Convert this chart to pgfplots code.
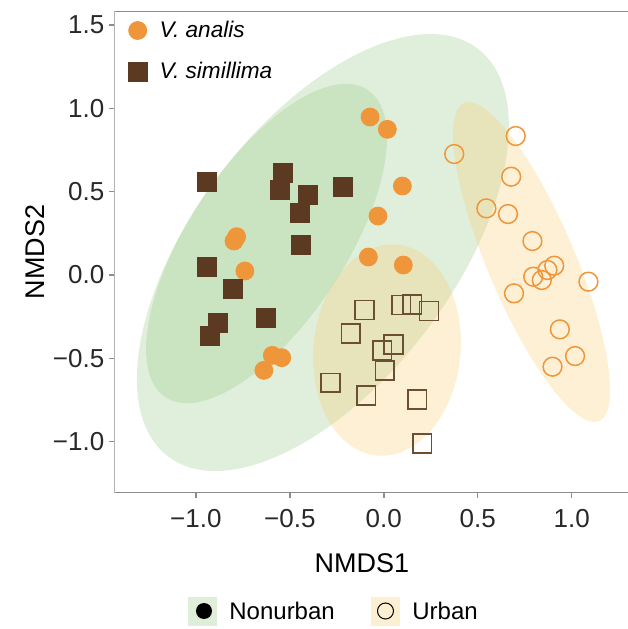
\documentclass[border=0pt]{standalone}
\usepackage{pgfplots}
\pgfplotsset{compat=1.18}
\usepackage{fontspec}
\setmainfont{Liberation Sans}
\definecolor{orng}{RGB}{240,150,58}
\definecolor{brwn}{RGB}{92,58,34}
\definecolor{brwnl}{RGB}{108,78,50}
\definecolor{grn}{RGB}{152,202,135}
\definecolor{ylw}{RGB}{248,205,115}
\definecolor{frame}{RGB}{140,140,140}
\definecolor{tick}{RGB}{40,40,40}
\begin{document}
\begin{tikzpicture}
\begin{axis}[
  scale only axis,
  width=256.85pt, height=240.85pt,
  xmin=-1.434, xmax=1.2996,
  ymin=-1.306, ymax=1.584,
  axis line style={draw=none},
  xtick={-1,-0.5,0,0.5,1},
  ytick={-1,-0.5,0,0.5,1,1.5},
  xticklabels={−1.0,−0.5,0.0,0.5,1.0},
  yticklabels={−1.0,−0.5,0.0,0.5,1.0,1.5},
  tick align=outside,
  major tick length=2.5pt,
  tick style={frame, line width=0.75pt},
  xtick pos=bottom, ytick pos=left,
  ticklabel style={font=\fontsize{13}{15}\selectfont, text=tick},
  xticklabel style={yshift=-2.5pt},
  yticklabel style={xshift=1pt},
  xlabel={NMDS1}, ylabel={NMDS2},
  label style={font=\fontsize{13.5}{16}\selectfont},
  xlabel style={at={(axis description cs:0.482,-0.1474)}, anchor=center},
  ylabel style={at={(axis description cs:-0.1544,0.5)}, anchor=center, rotate=0},
  legend style={at={(axis description cs:0,1)}, anchor=north west, draw=none, fill=none,
    font=\fontsize{11.3}{13}\selectfont\itshape, row sep=7pt, xshift=3.5pt, yshift=-0.7pt,
    nodes={inner xsep=2pt}},
  legend cell align=left,
  legend image code/.code={\path[draw=none, fill=none] (0pt,0pt) -- (14pt,0pt); \draw[#1] plot coordinates {(5pt,0pt)};},
]
% ellipses
\fill[grn, opacity=0.3] (axis cs:-0.324,0.135) ellipse [x radius=128pt, y radius=64.75pt, rotate=52.8];
\fill[grn, opacity=0.3] (axis cs:-0.624,0.189) ellipse [x radius=92pt, y radius=39.25pt, rotate=56.7];
\fill[ylw, opacity=0.3] (axis cs:0.017,-0.450) ellipse [x radius=53pt, y radius=36.8pt, rotate=84.5];
\fill[ylw, opacity=0.3] (axis cs:0.786,0.078) ellipse [x radius=86.4pt, y radius=21.85pt, rotate=-67];
% frame
\draw[frame, line width=0.75pt] (rel axis cs:1,1) -- (rel axis cs:0,1) -- (rel axis cs:0,0) -- (rel axis cs:1,0);
% V. analis, nonurban
\addplot[only marks, mark=*, mark size=4.5pt, color=orng] coordinates {
(-0.073,0.948) (0.019,0.874) (0.099,0.534) (-0.031,0.354) (-0.082,0.108) (0.104,0.060)
(-0.783,0.230) (-0.797,0.204) (-0.739,0.024) (-0.593,-0.482) (-0.543,-0.496) (-0.638,-0.572)
};
\addlegendentry{V. analis}
% V. simillima, nonurban
\addplot[only marks, mark=square*, mark size=4.75pt, color=brwn] coordinates {
(-0.939,0.560) (-0.535,0.610) (-0.554,0.508) (-0.402,0.478) (-0.446,0.374) (-0.216,0.530)
(-0.439,0.178) (-0.939,0.050) (-0.801,-0.082) (-0.625,-0.260) (-0.882,-0.290) (-0.927,-0.366)
};
\addlegendentry{V. simillima}
% V. simillima, urban
\addplot[only marks, mark=square, mark size=4.7pt, color=brwnl, mark options={line width=0.75pt, fill=none}, forget plot] coordinates {
(-0.102,-0.210) (0.093,-0.180) (0.152,-0.176) (0.241,-0.216) (-0.176,-0.350) (0.051,-0.416)
(-0.008,-0.452) (0.005,-0.572) (-0.283,-0.646) (-0.093,-0.722) (0.178,-0.746) (0.205,-1.010)
};
% V. analis, urban
\addplot[only marks, mark=o, mark size=4.7pt, color=orng, mark options={line width=0.75pt, fill=none}, forget plot] coordinates {
(0.375,0.726) (0.702,0.834) (0.678,0.590) (0.546,0.400) (0.661,0.366) (0.791,0.204)
(0.907,0.056) (0.871,0.030) (0.795,-0.010) (0.841,-0.030) (1.089,-0.040) (0.693,-0.110)
(0.937,-0.326) (1.018,-0.486) (0.898,-0.550)
};
\end{axis}
% bottom legend
\begin{scope}[font=\fontsize{12}{14}\selectfont]
\fill[grn!32] (36.85pt,-66.4pt) rectangle (51.35pt,-51.9pt);
\fill[black] (44.85pt,-59.15pt) circle[radius=4pt];
\node[anchor=west, inner sep=0pt] at (57.35pt,-59.15pt) {Nonurban};
\fill[ylw!32] (128.35pt,-66.4pt) rectangle (142.85pt,-51.9pt);
\draw[black, line width=0.5pt] (135.6pt,-59.15pt) circle[radius=4pt];
\node[anchor=west, inner sep=0pt] at (148.85pt,-59.15pt) {Urban};
\end{scope}
\pgfresetboundingbox
\path[use as bounding box] (-57.15pt,-68.15pt) rectangle (256.85pt,246.35pt);
\end{tikzpicture}
\end{document}
